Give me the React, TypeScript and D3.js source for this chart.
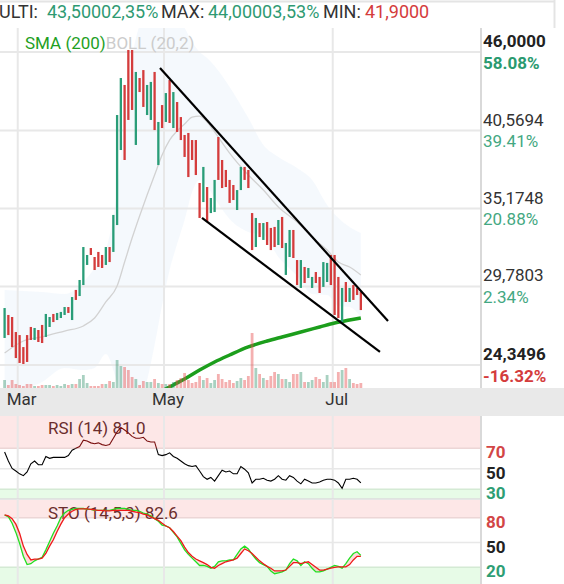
import React from 'react';
import * as d3 from 'd3';

const W = 564;
const H = 584;

// ---------- Candles (index 0..95, one per trading day) ----------
const opens = [
  26.22, 27.81, 27.67, 26.63, 26.42, 25.59, 26.42, 26.98, 26.08, 26.77,
  27.12, 26.29, 26.98, 27.88, 27.46, 27.6, 27.81, 28.36, 27.46, 29.54,
  29.12, 29.88, 31.27, 32.44, 31.82, 32.17, 31.96, 31.27, 32.51, 32.17,
  34.03, 39.22, 43.72, 46.14, 46.14, 39.57, 44.2, 44.75, 41.64, 41.3,
  44.62, 38.18, 42.33, 41.16, 44.06, 40.74, 42.54, 41.5, 40.26, 40.4,
  39.91, 39.91, 36.94, 35.62, 36.66, 34.86, 34.93, 40.12, 38.53, 37.84,
  37.15, 36.8, 35.07, 36.45, 38.05, 37.84, 34.86, 32.51, 34.17, 33.0,
  34.24, 33.83, 33.9, 32.65, 34.59, 30.58, 31.82, 33.69, 31.61, 29.68,
  31.13, 30.37, 29.68, 30.78, 30.44, 29.75, 30.09, 31.96, 31.96, 30.44,
  27.32, 30.09, 28.71, 29.88, 29.68, 29.4,
];
const closes = [
  28.29, 26.42, 25.59, 24.83, 24.49, 24.42, 24.56, 26.08, 26.91, 25.94,
  25.87, 27.88, 27.67, 27.32, 27.95, 28.02, 28.36, 27.95, 29.05, 28.85,
  30.23, 32.51, 31.96, 31.96, 30.92, 31.13, 31.06, 32.51, 31.47, 34.73,
  41.64, 44.2, 38.53, 41.3, 41.99, 44.62, 43.23, 42.2, 43.72, 43.93,
  40.6, 41.16, 40.74, 43.16, 41.09, 43.23, 40.47, 39.91, 38.74, 37.35,
  38.53, 37.49, 34.52, 38.05, 34.24, 35.9, 37.15, 37.15, 36.59, 36.66,
  35.56, 35.76, 36.45, 38.05, 37.15, 36.59, 32.3, 34.52, 33.2, 34.17,
  32.65, 32.3, 32.51, 34.38, 32.44, 32.79, 33.69, 31.75, 29.88, 31.61,
  30.02, 31.06, 30.44, 30.02, 29.33, 31.47, 31.41, 29.88, 27.81, 27.6,
  29.68, 28.71, 29.68, 28.85, 29.19, 28.15,
];
// volume (thousands)
const volumes = [
  8, 3, 8, 4, 3, 2, 4, 4, 2, 2,
  3, 3, 3, 2, 3, 2, 4, 3, 4, 4,
  9, 13, 5, 2, 2, 2, 4, 4, 7, 6,
  28, 22, 21, 18, 11, 9, 3, 7, 6, 6,
  9, 5, 4, 4, 4, 6, 8, 10, 15, 8,
  5, 6, 12, 8, 10, 5, 8, 14, 9, 6,
  8, 5, 7, 10, 8, 12, 55, 20, 14, 10,
  8, 12, 16, 14, 9, 9, 6, 14, 14, 16,
  6, 6, 8, 11, 9, 6, 13, 6, 6, 16,
  18, 20, 9, 5, 4, 5,
];

// ---------- Bollinger (20,2) read at sample days ----------
const bbIdx = [0, 5, 10, 16, 21, 24, 27, 30, 32, 34, 36, 38, 40, 42, 44, 46, 48, 50, 52, 54, 56, 60, 65, 69, 73, 78, 82, 86, 89, 92, 95];
const bbMiddle = [25.18, 26.01, 26.29, 26.7, 27.05, 27.6, 28.71, 29.81, 31.47, 33.13, 34.66, 36.11, 37.49, 38.88, 39.91, 40.54, 41.02, 41.5, 41.57, 41.16, 40.47, 39.01, 37.49, 36.45, 35.28, 34.24, 33.2, 32.3, 31.47, 31.13, 30.58];
const bbUpper = [29.54, 29.47, 29.4, 29.26, 30.09, 31.06, 32.3, 36.45, 41.3, 45.59, 47.87, 48.91, 49.25, 49.25, 48.91, 48.35, 47.66, 46.69, 46.0, 45.59, 45.03, 43.58, 41.43, 39.57, 38.74, 37.98, 37.15, 35.42, 34.52, 33.9, 33.48];
const bbLower = [20.82, 22.55, 23.17, 24.14, 24.0, 24.14, 25.11, 23.17, 21.65, 20.68, 21.44, 23.31, 25.73, 28.5, 30.92, 32.72, 34.38, 36.31, 37.15, 36.73, 35.9, 34.45, 33.55, 33.34, 31.82, 30.51, 29.26, 29.19, 28.43, 28.36, 27.67];

// ---------- SMA (200) ----------
const smaIdx = [40, 42, 45, 48, 52, 56, 60, 65, 70, 74, 79, 84, 88, 92, 95];
const smaVals = [22.2, 22.55, 22.97, 23.38, 24.0, 24.56, 25.04, 25.6, 26.01, 26.29, 26.63, 26.98, 27.26, 27.46, 27.6];

// ---------- Trend lines [day index, price] ----------
const trendUpper: [number, number][] = [[41.44, 44.89], [102.24, 27.39]];
const trendLower: [number, number][] = [[52.64, 34.52], [100.1, 25.25]];

// ---------- RSI (14) ----------
const rsiVals = [
  66.4, 57.6, 50.4, 47.8, 45.1, 43.3, 46.9, 54.9, 57.6, 54,
  54, 62, 60.2, 61.1, 61.1, 61.1, 61.1, 62.9, 68.2, 70,
  71.8, 78, 77.1, 75.3, 74.4, 75.3, 73.6, 72.7, 73.6, 79.8,
  86, 90.4, 87.8, 85.1, 81.6, 79.8, 79.8, 80.7, 77.1, 76.2,
  76.2, 63.8, 62.9, 63.8, 65.6, 62, 60.2, 57.6, 54.9, 53.1,
  52.2, 53.1, 47.8, 42.4, 39.8, 41.6, 38, 43.3, 48.7, 46.9,
  47.8, 45.1, 45.1, 52.2, 49.6, 46, 36.2, 39.8, 39.8, 40.7,
  38.9, 38, 39.8, 43.3, 39.8, 38.9, 43.3, 41.6, 38, 35.3,
  39.8, 38, 36.2, 36.2, 37.1, 38.9, 39.8, 39.8, 38.9, 36.2,
  30.9, 39.8, 39.8, 40.7, 39.8, 36.2,
];

// ---------- Stochastic (14,5,3) ----------
const stoK = [
  83.3, 81.1, 73.3, 62.2, 48.9, 33.3, 23.3, 24.4, 27.8, 30,
  32.2, 41.1, 51.1, 61.1, 70, 80, 85.6, 88.9, 90, 91.1,
  91.1, 91.1, 90, 90, 88.9, 88.9, 88.9, 88.9, 88.9, 90,
  91.1, 91.1, 91.1, 90, 88.9, 88.9, 87.8, 85.6, 84.4, 82.2,
  78.9, 75.6, 71.1, 70, 67.8, 62.2, 56.7, 48.9, 41.1, 35.6,
  31.1, 26.7, 22.2, 22.2, 21.1, 18.9, 21.1, 26.7, 27.8, 27.8,
  28.9, 28.9, 35.6, 42.2, 45.6, 42.2, 35.6, 30, 25.6, 23.3,
  21.1, 15.6, 12.2, 13.3, 14.4, 16.7, 24.4, 30, 27.8, 22.2,
  26.7, 24.4, 18.9, 14.4, 14.4, 15.6, 17.8, 20, 22.2, 21.1,
  18.9, 24.4, 31.1, 36.7, 38.9, 34.4,
];
const stoD = [
  83.3, 82.2, 78.9, 72.2, 61.1, 45.6, 35.6, 28.9, 30, 30,
  31.1, 36.7, 45.6, 53.3, 63.3, 72.2, 80, 84.4, 87.8, 90,
  90.6, 90.6, 90.6, 90, 89.4, 88.9, 88.9, 88.3, 88.3, 88.9,
  88.9, 88.9, 88.9, 88.9, 87.8, 86.7, 86.1, 84.4, 83.3, 81.1,
  78.9, 76.7, 73.3, 70, 67.8, 63.3, 57.8, 52.2, 44.4, 37.8,
  33.3, 30, 27.8, 25.6, 23.3, 20, 18.9, 22.2, 24.4, 26.7,
  27.8, 28.9, 31.1, 36.7, 42.2, 40, 36.7, 32.2, 27.8, 24.4,
  21.1, 18.9, 15.6, 15.6, 15.6, 16.7, 21.1, 25.6, 25.6, 24.4,
  25.6, 26.7, 23.3, 20, 16.7, 16.7, 17.8, 18.9, 20, 20.6,
  20.6, 20.6, 23.3, 28.9, 33.3, 33.3,
];

// ---------- Axes ----------
const monthLabels = ['Mar', 'May', 'Jul'];
const monthIdx = [3.5, 42.5, 87.5];
const priceTicks = [46, 40.5694, 35.1748, 29.7803, 24.3496];
const pctBase = 29.1;
const rsiTicks = [70, 50, 30];
const stoTicks = [80, 50, 20];

const GREEN = '#2a9d78';
const RED = '#d43c3c';
const FONT = 'Roboto, "Noto Sans", sans-serif';

const PLOT_R = 481;
const MAIN_T = 28;
const MAIN_B = 388;
const RSI_T = 416;
const RSI_B = 499;
const STO_T = 499;
const STO_B = 584;

export default function App() {
  const x = d3.scaleLinear().domain([0, 95]).range([4.6, 360.85]);
  const y = d3.scaleLinear().domain([24.3496, 46]).range([365, 52]);
  const yVol = d3.scaleLinear().domain([0, 60]).range([MAIN_B, MAIN_B - 60]);
  const yRsi = d3.scaleLinear().domain([30, 70]).range([489.3, 448.3]);
  const ySto = d3.scaleLinear().domain([20, 80]).range([567.3, 517.7]);

  const bbArea = d3
    .area<number>()
    .x((_, k) => x(bbIdx[k]))
    .y0((_, k) => y(bbLower[k]))
    .y1((_, k) => y(bbUpper[k]))
    .curve(d3.curveMonotoneX)(bbIdx) as string;
  const bbMid = d3
    .line<number>()
    .x((_, k) => x(bbIdx[k]))
    .y((_, k) => y(bbMiddle[k]))
    .curve(d3.curveMonotoneX)(bbIdx) as string;
  const smaPath = d3
    .line<number>()
    .x((_, k) => x(smaIdx[k]))
    .y((_, k) => y(smaVals[k]))
    .curve(d3.curveMonotoneX)(smaIdx) as string;
  const trendLine = d3
    .line<[number, number]>()
    .x((d) => x(d[0]))
    .y((d) => y(d[1]));

  const rsiPath = d3
    .line<number>()
    .x((_, i) => x(i))
    .y((d) => yRsi(d))(rsiVals) as string;
  const kPath = d3
    .line<number>()
    .x((_, i) => x(i))
    .y((d) => ySto(d))(stoK) as string;
  const dPath = d3
    .line<number>()
    .x((_, i) => x(i))
    .y((d) => ySto(d))(stoD) as string;
  const kdArea = d3
    .area<number>()
    .x((_, i) => x(i))
    .y0((_, i) => ySto(stoK[i]))
    .y1((_, i) => ySto(stoD[i]))(stoK) as string;

  const fmtPrice = (v: number) => d3.format('.4f')(v).replace('.', ',');
  const fmtPct = (v: number) =>
    (d3.format('.2f')((v / pctBase - 1) * 100) + '%').replace('\u2212', '-');

  const gridXs = monthIdx.map((m) => x(m));

  return (
    <svg
      width={W}
      height={H}
      style={{ position: 'absolute', left: 0, top: 0, background: '#fff' }}
      fontFamily={FONT}
    >
      <defs>
        <clipPath id="mainClip">
          <rect x={0} y={MAIN_T} width={PLOT_R} height={MAIN_B - MAIN_T} />
        </clipPath>
        <clipPath id="rsiClip">
          <rect x={0} y={RSI_T} width={PLOT_R} height={RSI_B - RSI_T} />
        </clipPath>
        <clipPath id="rsiHigh">
          <rect x={0} y={RSI_T} width={PLOT_R} height={yRsi(70) - RSI_T} />
        </clipPath>
        <clipPath id="rsiLow">
          <rect x={0} y={yRsi(70)} width={PLOT_R} height={RSI_B - yRsi(70)} />
        </clipPath>
        <clipPath id="stoClip">
          <rect x={0} y={STO_T} width={PLOT_R} height={STO_B - STO_T} />
        </clipPath>
      </defs>

      {/* header */}
      <line x1={0} x2={554.5} y1={1.5} y2={1.5} stroke="#e4e4e4" strokeWidth={2} />
      <line x1={554.5} x2={554.5} y1={0} y2={MAIN_T} stroke="#e4e4e4" strokeWidth={2} />
      <g fontSize={18}>
        <text x={-1} y={18} fill="#333">ULTI:</text>
        <text x={47} y={18} fill="#2e9a72">43,50002,35%</text>
        <text x={161} y={18} fill="#333">MAX:</text>
        <text x={208} y={18} fill="#2e9a72">44,00003,53%</text>
        <text x={323} y={18} fill="#333">MIN:</text>
        <text x={365} y={18} fill={RED}>41,9000</text>
      </g>

      {/* main panel */}
      <g clipPath="url(#mainClip)">
        <path d={bbArea} fill="rgba(190,215,245,0.16)" />
        {priceTicks.map((p, k) => (
          <line key={'hg' + k} x1={0} x2={PLOT_R} y1={y(p)} y2={y(p)} stroke="#e8e8e8" strokeWidth={2} />
        ))}
        {gridXs.map((gx, k) => (
          <line key={'vg' + k} x1={gx} x2={gx} y1={MAIN_T} y2={MAIN_B} stroke="#e8e8e8" strokeWidth={2} />
        ))}
        <path d={bbMid} fill="none" stroke="#d2d2d2" strokeWidth={1.3} />
        <path d={smaPath} fill="none" stroke="#1c9e1c" strokeWidth={3.5} />
        {volumes.map((v, i) => (
          <rect
            key={'v' + i}
            x={x(i) - 1.4}
            width={2.8}
            y={yVol(v)}
            height={MAIN_B - yVol(v)}
            fill={closes[i] >= opens[i] ? 'rgba(40,140,100,0.4)' : 'rgba(230,80,80,0.45)'}
          />
        ))}
        {opens.map((o, i) => {
          const c = closes[i];
          const top = y(Math.max(o, c));
          const bot = y(Math.min(o, c));
          return (
            <rect
              key={'c' + i}
              x={x(i) - 1.15}
              width={2.3}
              y={top}
              height={Math.max(1, bot - top)}
              fill={c >= o ? GREEN : RED}
            />
          );
        })}
        <path d={trendLine(trendUpper) as string} stroke="#000" strokeWidth={2.2} fill="none" />
        <path d={trendLine(trendLower) as string} stroke="#000" strokeWidth={2.2} fill="none" />
      </g>
      <text x={25} y={49} fontSize={17}>
        <tspan fill="#1fa01f">SMA (200)</tspan>
        <tspan fill="#cccccc">BOLL (20,2)</tspan>
      </text>

      {/* right price axis */}
      <line x1={PLOT_R} x2={PLOT_R} y1={MAIN_T} y2={MAIN_B} stroke="#d9d9d9" strokeWidth={2} />
      {priceTicks.map((p, k) => {
        const bold = k === 0 || k === priceTicks.length - 1;
        const pctColor = p < pctBase ? RED : bold ? '#2a9a70' : '#44a882';
        return (
          <g key={'pl' + k} fontSize={17} fontWeight={bold ? 'bold' : 'normal'}>
            <text x={483} y={y(p) - 5} fill={bold ? '#222' : '#333'}>{fmtPrice(p)}</text>
            <text x={483} y={y(p) + 16.5} fill={pctColor}>{fmtPct(p)}</text>
          </g>
        );
      })}

      {/* date band */}
      <rect x={0} y={MAIN_B} width={W} height={RSI_T - MAIN_B} fill="#e9e9e9" />
      {monthLabels.map((m, k) => (
        <text key={'m' + k} x={gridXs[k] + 4} y={405} fontSize={17} fill="#333" textAnchor="middle">
          {m}
        </text>
      ))}

      {/* RSI panel */}
      <g clipPath="url(#rsiClip)">
        <rect x={0} y={RSI_T} width={PLOT_R} height={yRsi(70) - RSI_T} fill="#fde7e7" />
        <rect x={0} y={yRsi(30)} width={PLOT_R} height={RSI_B - yRsi(30)} fill="#e7fbe7" />
        <line x1={0} x2={PLOT_R} y1={yRsi(70)} y2={yRsi(70)} stroke="#ecd6d6" strokeWidth={1.5} />
        <line x1={0} x2={PLOT_R} y1={yRsi(50)} y2={yRsi(50)} stroke="#e8e8e8" strokeWidth={1.5} />
        <line x1={0} x2={PLOT_R} y1={yRsi(30)} y2={yRsi(30)} stroke="#d4ead4" strokeWidth={1.5} />
        {gridXs.map((gx, k) => (
          <line key={'rg' + k} x1={gx} x2={gx} y1={RSI_T} y2={RSI_B} stroke="#e8e8e8" strokeWidth={2} />
        ))}
        <text x={48} y={434} fontSize={17} fill="#6b2d2d">RSI (14) 81.0</text>
        <path d={rsiPath} fill="none" stroke="#000" strokeWidth={1.1} clipPath="url(#rsiLow)" />
        <path d={rsiPath} fill="none" stroke="#7a0f0f" strokeWidth={1.1} clipPath="url(#rsiHigh)" />
      </g>
      <line x1={0} x2={PLOT_R} y1={RSI_B} y2={RSI_B} stroke="#dcdcdc" strokeWidth={1.5} />

      {/* STO panel */}
      <g clipPath="url(#stoClip)">
        <rect x={0} y={STO_T + 1} width={PLOT_R} height={ySto(80) - STO_T - 1} fill="#fde7e7" />
        <rect x={0} y={ySto(20)} width={PLOT_R} height={STO_B - ySto(20)} fill="#e7fbe7" />
        <line x1={0} x2={PLOT_R} y1={ySto(80)} y2={ySto(80)} stroke="#ecd6d6" strokeWidth={1.5} />
        <line x1={0} x2={PLOT_R} y1={ySto(50)} y2={ySto(50)} stroke="#e8e8e8" strokeWidth={1.5} />
        <line x1={0} x2={PLOT_R} y1={ySto(20)} y2={ySto(20)} stroke="#d4ead4" strokeWidth={1.5} />
        {gridXs.map((gx, k) => (
          <line key={'sg' + k} x1={gx} x2={gx} y1={STO_T} y2={STO_B} stroke="#e8e8e8" strokeWidth={2} />
        ))}
        <text x={48} y={518.5} fontSize={17} fill="#6b2d2d">STO (14,5,3) 82.6</text>
        <path d={kdArea} fill="rgba(255,140,140,0.3)" />
        <path d={kPath} fill="none" stroke="#22e022" strokeWidth={1.3} />
        <path d={dPath} fill="none" stroke="#ee1a1a" strokeWidth={1.3} />
      </g>

      {/* divider for lower panels */}
      <line x1={PLOT_R} x2={PLOT_R} y1={RSI_T} y2={H} stroke="#d9d9d9" strokeWidth={2} />

      {/* RSI / STO labels */}
      {rsiTicks.map((t, k) => (
        <text
          key={'rt' + k}
          x={486}
          y={yRsi(t) + 10}
          fontSize={17}
          fontWeight="bold"
          fill={k === 0 ? '#d24646' : k === 1 ? '#222' : '#2e9e74'}
        >
          {t}
        </text>
      ))}
      {stoTicks.map((t, k) => (
        <text
          key={'st' + k}
          x={486}
          y={ySto(t) + 10}
          fontSize={17}
          fontWeight="bold"
          fill={k === 0 ? '#d24646' : k === 1 ? '#222' : '#2e9e74'}
        >
          {t}
        </text>
      ))}
    </svg>
  );
}
